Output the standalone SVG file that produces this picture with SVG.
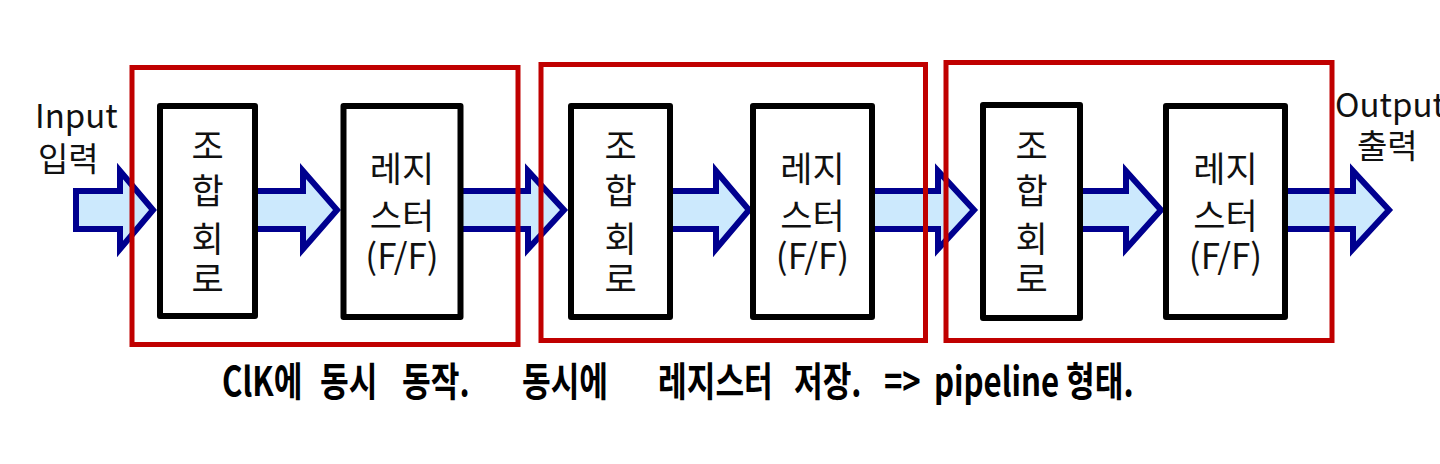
<svg xmlns="http://www.w3.org/2000/svg" width="1440" height="464" viewBox="0 0 1440 464">
<defs>
<style>
.arrow{fill:#cce9fd;stroke:#00008f;stroke-width:6;stroke-linejoin:miter}
.blk{fill:#fff;stroke:#000;stroke-width:6;stroke-linejoin:round}
.red{fill:none;stroke:#c00000;stroke-width:5}
.t{font-family:"Noto Sans CJK KR","Noto Sans",sans-serif;font-size:35px;fill:#111;text-anchor:middle}
.lab{font-family:"Noto Sans CJK KR","Noto Sans",sans-serif;font-size:33px;fill:#111}
.hand{font-family:"Noto Sans CJK KR",sans-serif;font-size:40px;font-weight:bold;fill:#000}
</style>
</defs>
<rect width="1440" height="464" fill="#fff"/>
<g id="connectors">
<polygon class="arrow" points="76,191 120,191 120,171 153,210 120,249 120,229 76,229"/>
<polygon class="arrow" points="255,191 303,191 303,171 337,210 303,249 303,229 255,229"/>
<polygon class="arrow" points="460,191 528,191 528,171 564,210 528,249 528,229 460,229"/>
<polygon class="arrow" points="670,191 716,191 716,171 749,210 716,249 716,229 670,229"/>
<polygon class="arrow" points="872,191 938,191 938,171 974,210 938,249 938,229 872,229"/>
<polygon class="arrow" points="1080,191 1126,191 1126,171 1161,210 1126,249 1126,229 1080,229"/>
<polygon class="arrow" points="1285,191 1353,191 1353,171 1389,210 1353,249 1353,229 1285,229"/>
</g>
<g id="comb1">
<rect class="blk" x="160" y="106" width="95" height="210"/>
<text class="t"><tspan x="207.5" y="159">조</tspan><tspan x="207.5" y="204">합</tspan><tspan x="207.5" y="252">회</tspan><tspan x="207.5" y="292">로</tspan></text>
</g>
<g id="reg1">
<rect class="blk" x="343.5" y="106" width="117" height="211"/>
<text class="t"><tspan x="402" y="182">레지</tspan><tspan x="402" y="229">스터</tspan><tspan x="402" y="269">(F/F)</tspan></text>
</g>
<g id="comb2">
<rect class="blk" x="571" y="106" width="99" height="211"/>
<text class="t"><tspan x="620.5" y="159">조</tspan><tspan x="620.5" y="204">합</tspan><tspan x="620.5" y="252">회</tspan><tspan x="620.5" y="292">로</tspan></text>
</g>
<g id="reg2">
<rect class="blk" x="753" y="106" width="119" height="211"/>
<text class="t"><tspan x="812.5" y="182">레지</tspan><tspan x="812.5" y="229">스터</tspan><tspan x="812.5" y="269">(F/F)</tspan></text>
</g>
<g id="comb3">
<rect class="blk" x="983" y="105" width="97" height="213"/>
<text class="t"><tspan x="1031.5" y="159">조</tspan><tspan x="1031.5" y="204">합</tspan><tspan x="1031.5" y="252">회</tspan><tspan x="1031.5" y="292">로</tspan></text>
</g>
<g id="reg3">
<rect class="blk" x="1166" y="106" width="119" height="211"/>
<text class="t"><tspan x="1225.5" y="182">레지</tspan><tspan x="1225.5" y="229">스터</tspan><tspan x="1225.5" y="269">(F/F)</tspan></text>
</g>
<g id="stage1"><rect class="red" x="132" y="67.5" width="386" height="277"/></g>
<g id="stage2"><rect class="red" x="541" y="64.5" width="384.5" height="276"/></g>
<g id="stage3"><rect class="red" x="946" y="62.5" width="386" height="278"/></g>
<g id="input">
<text class="lab"><tspan x="35" y="128">Input</tspan><tspan x="38" y="171">입력</tspan></text>
</g>
<g id="output">
<text class="lab"><tspan x="1335" y="117">Output</tspan><tspan x="1357" y="158">출력</tspan></text>
</g>
<g id="note">
<text class="hand" transform="scale(0.78,1)" y="396"><tspan x="284.6">ClK에</tspan><tspan x="410.3">동시</tspan><tspan x="515.4">동작.</tspan><tspan x="669.2">동시에</tspan><tspan x="843.6">레지스터</tspan><tspan x="1017.9">저장.</tspan><tspan x="1133.3">=&gt;</tspan><tspan x="1197.4">pipeline</tspan><tspan x="1366.7">형태.</tspan></text>
</g>
</svg>
